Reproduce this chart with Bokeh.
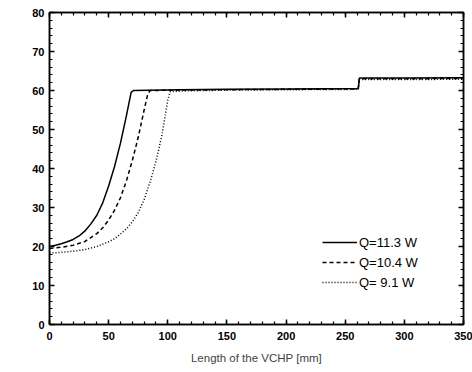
import math
from bokeh.plotting import figure
from bokeh.models import LinearAxis, FixedTicker, Legend, LegendItem, Label, Range1d, CustomJSTickFormatter
from bokeh.embed import file_html
from bokeh.resources import INLINE

# Q = 11.3 W (solid)
x_q113 = [0, 5, 10, 15, 20, 25, 30, 35, 40, 45, 50, 55, 60, 65, 69, 71, 110, 150, 200, 261, 262, 300, 350]
t_q113 = [20.0, 20.3, 20.7, 21.2, 21.8, 22.7, 24.0, 25.8, 28.0, 31.2, 35.5, 40.5, 46.5, 53.5, 59.5, 60.0, 60.2, 60.3, 60.4, 60.5, 63.2, 63.2, 63.3]

# Q = 10.4 W (dashed)
x_q104 = [0, 10, 20, 30, 40, 45, 50, 55, 60, 65, 70, 75, 80, 83, 85, 110, 150, 200, 261, 262, 300, 350]
t_q104 = [19.5, 19.8, 20.3, 21.3, 23.3, 24.8, 26.8, 29.3, 32.5, 36.8, 42.0, 48.0, 55.0, 59.0, 60.0, 60.1, 60.2, 60.3, 60.4, 63.0, 63.0, 63.1]

# Q = 9.1 W (dotted)
x_q91 = [0, 10, 20, 30, 40, 50, 55, 60, 65, 70, 75, 80, 85, 90, 95, 100, 102, 115, 150, 200, 261, 262, 300, 350]
t_q91 = [18.3, 18.5, 18.8, 19.2, 20.0, 21.2, 22.0, 23.2, 24.5, 26.3, 28.7, 32.0, 36.5, 41.8, 48.5, 57.5, 59.7, 59.9, 60.1, 60.2, 60.3, 62.8, 62.8, 62.9]

x_major = [0, 50, 100, 150, 200, 250, 300, 350]
x_minor = list(range(0, 351, 10))
y_major = [0, 10, 20, 30, 40, 50, 60, 70, 80]
y_minor = list(range(0, 81, 2))

FONT = "Liberation Sans"

p = figure(width=472, height=372, output_backend="svg", toolbar_location=None,
           x_range=Range1d(0, 350), y_range=Range1d(0, 80),
           min_border_left=49, min_border_right=9, min_border_top=12, min_border_bottom=48,
           x_axis_type=None, y_axis_type=None)
p.xgrid.visible = False
p.ygrid.visible = False
p.outline_line_color = "black"
p.outline_line_width = 1.5
p.background_fill_color = "white"
p.border_fill_color = "white"


def style_axis(ax, ticks, minor, show_labels):
    ax.ticker = FixedTicker(ticks=ticks, minor_ticks=minor)
    ax.axis_line_color = "black"
    ax.axis_line_width = 1.5
    ax.major_tick_in = 5
    ax.major_tick_out = 0
    ax.minor_tick_in = 3
    ax.minor_tick_out = 0
    ax.major_tick_line_width = 1.5
    ax.minor_tick_line_width = 1.2
    ax.major_label_text_font = FONT
    ax.major_label_text_font_style = "bold"
    ax.major_label_text_font_size = "11px"
    ax.major_label_text_color = "black"
    ax.major_label_standoff = 5
    if not show_labels:
        ax.formatter = CustomJSTickFormatter(code="return ''")
        ax.major_label_standoff = 0


xb = LinearAxis()
style_axis(xb, x_major, x_minor, True)
xb.major_label_standoff = 7
xb.axis_label = "Length of the VCHP [mm]"
xb.axis_label_text_font = FONT
xb.axis_label_text_font_style = "normal"
xb.axis_label_text_font_size = "11.5px"
xb.axis_label_standoff = 9
p.add_layout(xb, "below")

xt = LinearAxis()
style_axis(xt, x_major, x_minor, False)
p.add_layout(xt, "above")

yl = LinearAxis()
style_axis(yl, y_major, y_minor, True)
p.add_layout(yl, "left")

yr = LinearAxis()
style_axis(yr, y_major, y_minor, False)
p.add_layout(yr, "right")

r1 = p.line(x_q113, t_q113, line_color="black", line_width=1.5)
r2 = p.line(x_q104, t_q104, line_color="black", line_width=1.5, line_dash="4 3")
r3 = p.line(x_q91, t_q91, line_color="black", line_width=1.5, line_dash="1 2")

legend = Legend(items=[
    LegendItem(label="Q=11.3 W", renderers=[r1]),
    LegendItem(label="Q=10.4 W", renderers=[r2]),
    LegendItem(label="Q= 9.1 W", renderers=[r3]),
], location=(273, 32))
legend.glyph_width = 35
legend.glyph_height = 20
legend.label_height = 20
legend.spacing = 0
legend.padding = 0
legend.margin = 0
legend.label_standoff = 2
legend.border_line_color = None
legend.background_fill_alpha = 0
legend.label_text_font = FONT
legend.label_text_font_size = "13px"
legend.label_text_color = "black"
p.add_layout(legend, "center")

ylab = Label(x=-40, y=167, x_units="screen", y_units="screen", text="Temperature [°C]",
             angle=math.pi / 2, text_align="center", text_baseline="middle",
             text_font=FONT, text_font_size="11px", text_color="black")
p.add_layout(ylab)

open("out.html", "w").write(file_html(p, INLINE))
